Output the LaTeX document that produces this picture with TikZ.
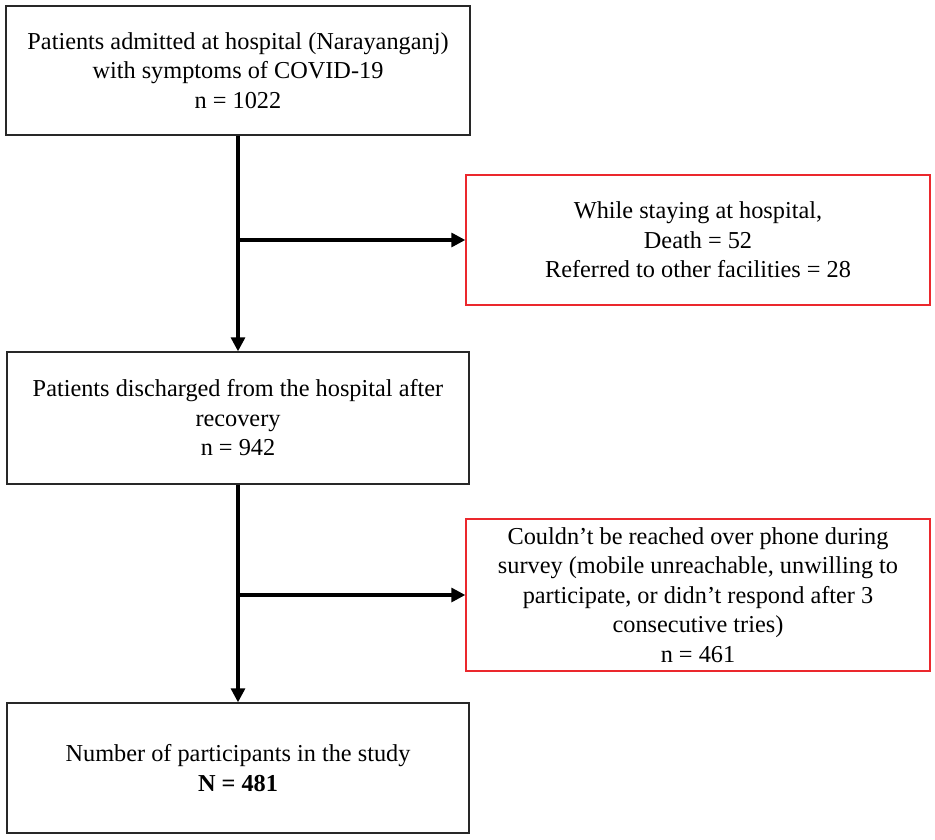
\documentclass[tikz,border=0pt]{standalone}
\usepackage{fontspec}
\setmainfont{Liberation Serif}
\usetikzlibrary{arrows.meta}
\definecolor{boxred}{RGB}{235,40,45}
\definecolor{boxgray}{RGB}{40,40,40}
\tikzset{
  flowbox/.style={draw=boxgray, line width=1.4pt, align=center, inner sep=0pt,
    font=\fontsize{24.3}{29.5}\selectfont, text=black},
  redbox/.style={flowbox, draw=boxred},
  flowarrow/.style={line width=3.2pt, -{Triangle[length=14pt,width=14pt]}},
}
\begin{document}
\begin{tikzpicture}[x=1pt,y=-1pt]
\useasboundingbox[fill=white] (0,0) rectangle (935,840);
\node[flowbox, minimum width=464pt, minimum height=129pt] (b1) at (238,70.5)
  {Patients admitted at hospital (Narayanganj)\\with symptoms of COVID-19\\n = 1022};
\node[redbox, minimum width=464pt, minimum height=130pt] (r1) at (698,240)
  {While staying at hospital,\\Death = 52\\Referred to other facilities = 28};
\node[flowbox, minimum width=462pt, minimum height=132pt] (b2) at (238,418)
  {Patients discharged from the hospital after\\recovery\\n = 942};
\node[redbox, minimum width=464pt, minimum height=152pt] (r2) at (698,595)
  {Couldn't be reached over phone during\\survey (mobile unreachable, unwilling to\\participate, or didn't respond after 3\\consecutive tries)\\n = 461};
\node[flowbox, minimum width=462pt, minimum height=130pt] (b3) at (238,768)
  {Number of participants in the study\\\textbf{N = 481}};
\draw[flowarrow] (b1.south) -- (b2.north);
\draw[flowarrow] (b1.south |- r1.west) -- (r1.west);
\draw[flowarrow] (b2.south) -- (b3.north);
\draw[flowarrow] (b2.south |- r2.west) -- (r2.west);
\end{tikzpicture}
\end{document}
